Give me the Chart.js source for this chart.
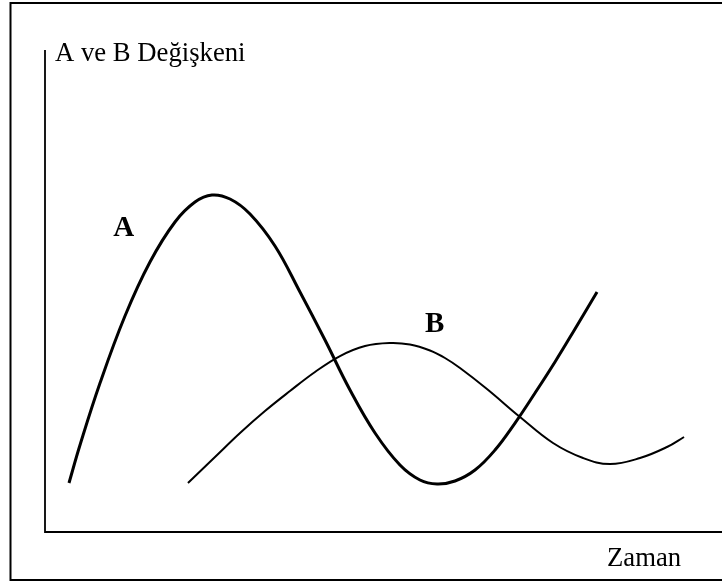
<!DOCTYPE html>
<html>
<head>
<meta charset="utf-8">
<script src="https://cdn.jsdelivr.net/npm/chart.js@4/dist/chart.umd.min.js"></script>
<style>
html,body{margin:0;padding:0;background:#fff;}
canvas{display:block;}
</style>
</head>
<body>
<canvas id="c" width="722" height="583"></canvas>
<script>
// Time (x) and variable (y) values, arbitrary 0-100 units
const timeA = [3.55, 5.18, 8.14, 11.83, 15.53, 19.23, 22.19, 24.70, 27.37, 30.33, 34.02, 37.72, 41.42, 45.12, 48.82, 52.51, 55.47, 57.99, 60.65, 63.61, 66.57, 69.53, 72.49, 75.44, 78.40, 81.66];
const valuesA = [10.17, 18.05, 30.91, 44.81, 56.02, 64.32, 68.46, 69.92, 69.09, 65.98, 59.34, 49.79, 39.83, 29.46, 20.54, 13.90, 10.79, 9.96, 10.58, 12.86, 17.01, 22.61, 28.84, 35.27, 42.12, 49.79];
const timeB = [21.15, 25.15, 28.85, 32.54, 36.24, 39.94, 43.64, 47.34, 51.04, 53.99, 56.95, 59.17, 61.39, 65.38, 70.27, 75.15, 79.59, 83.58, 88.02, 92.01, 94.53];
const valuesB = [10.17, 15.56, 20.54, 25.10, 29.25, 33.20, 36.51, 38.59, 39.21, 38.90, 37.66, 36.10, 34.02, 29.67, 23.86, 18.46, 15.35, 14.11, 15.35, 17.63, 19.71];
const seriesLabels = ['A', 'B'];
const labelAnchorX = [10.1, 56.2];
const labelAnchorY = [61.4, 41.5];
const yAxisTitle = 'A ve B Değişkeni';
const xAxisTitle = 'Zaman';

const SERIF = '"Liberation Serif", "Times New Roman", serif';

function pts(xs, ys){ return xs.map((x,i)=>({x:x, y:ys[i]})); }

const decor = {
  id: 'decor',
  beforeDraw(chart){
    const ctx = chart.ctx;
    ctx.save();
    ctx.fillStyle = '#fff';
    ctx.fillRect(0,0,chart.width,chart.height);
    ctx.restore();
  },
  afterDraw(chart){
    const ctx = chart.ctx, a = chart.chartArea;
    ctx.save();
    ctx.strokeStyle = '#000';
    // outer frame
    ctx.lineWidth = 2;
    ctx.beginPath();
    ctx.moveTo(chart.width, 3);
    ctx.lineTo(10.5, 3);
    ctx.lineTo(10.5, 580);
    ctx.lineTo(chart.width, 580);
    ctx.stroke();
    // axes
    ctx.lineWidth = 1.8;
    ctx.beginPath();
    ctx.moveTo(a.left, a.top);
    ctx.lineTo(a.left, a.bottom);
    ctx.lineTo(chart.width, a.bottom);
    ctx.stroke();
    // titles
    ctx.fillStyle = '#000';
    ctx.textBaseline = 'alphabetic';
    ctx.textAlign = 'left';
    ctx.font = '26.7px ' + SERIF;
    ctx.fillText(yAxisTitle, a.left + 10, a.top + 11);
    ctx.fillText(xAxisTitle, 607, 566);
    // series labels
    const xs = chart.scales.x, ys = chart.scales.y;
    ctx.font = 'bold 29px ' + SERIF;
    seriesLabels.forEach((t,i)=>{
      ctx.fillText(t, xs.getPixelForValue(labelAnchorX[i]), ys.getPixelForValue(labelAnchorY[i]));
    });
    ctx.restore();
  }
};

new Chart(document.getElementById('c'), {
  type: 'scatter',
  data: {
    datasets: [
      { label: seriesLabels[0], data: pts(timeA, valuesA), showLine: true, borderColor: '#000', borderWidth: 3, pointRadius: 0, tension: 0.4, fill: false, clip: false },
      { label: seriesLabels[1], data: pts(timeB, valuesB), showLine: true, borderColor: '#000', borderWidth: 2, pointRadius: 0, tension: 0.4, fill: false, clip: false }
    ]
  },
  options: {
    responsive: false,
    animation: false,
    layout: { padding: { left: 45, right: 1, top: 50, bottom: 51 } },
    plugins: { legend: { display: false }, tooltip: { enabled: false }, title: { display: false } },
    scales: {
      x: { type: 'linear', min: 0, max: 100, display: false },
      y: { type: 'linear', min: 0, max: 100, display: false }
    },
    events: []
  },
  plugins: [decor]
});
</script>
</body>
</html>
